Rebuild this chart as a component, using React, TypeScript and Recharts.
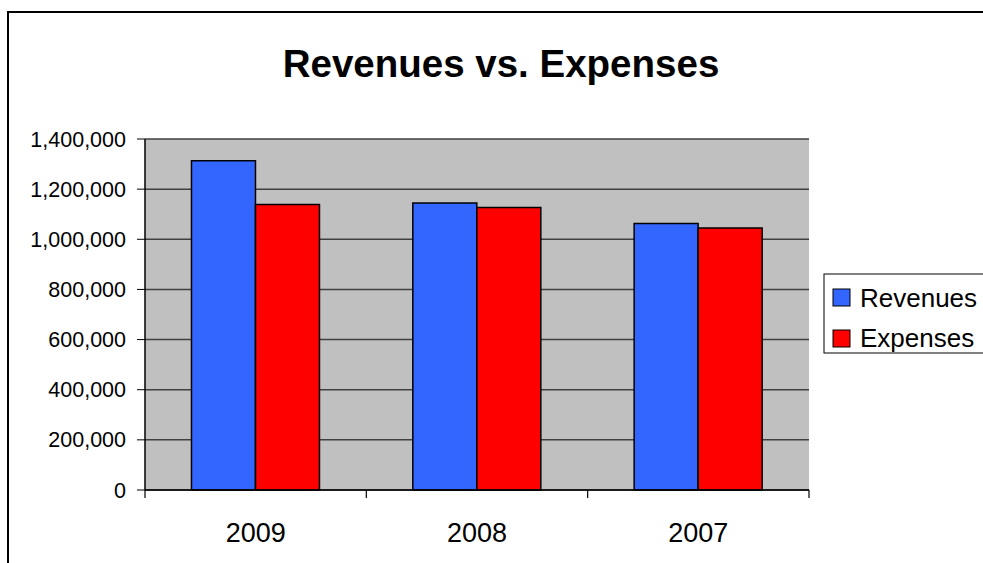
import { BarChart, Bar, XAxis, YAxis, CartesianGrid } from 'recharts'

const categories = ['2009', '2008', '2007']
const revenues = [1313000, 1145000, 1063000]
const expenses = [1139000, 1127000, 1045000]
const yTicks = [0, 200000, 400000, 600000, 800000, 1000000, 1200000, 1400000]

const series = [
  { key: 'revenues', name: 'Revenues', color: '#3366FF' },
  { key: 'expenses', name: 'Expenses', color: '#FF0000' },
]

const data = categories.map((year, i) => ({
  year,
  revenues: revenues[i],
  expenses: expenses[i],
}))

const font = '"Liberation Sans", Arial, sans-serif'
const TICK_SIZE = 8
const TICK_MARGIN = 25

// category label plus tick marks on the category boundaries
function YearTick(props: any) {
  const { x, y, payload, index } = props
  const half = payload.offset || 0
  const axisY = y - TICK_SIZE - TICK_MARGIN
  const last = index === categories.length - 1
  return (
    <g>
      <line x1={x - half} x2={x - half} y1={axisY} y2={axisY + TICK_SIZE} stroke="#000" strokeWidth={1.2} />
      {last && <line x1={x + half} x2={x + half} y1={axisY} y2={axisY + TICK_SIZE} stroke="#000" strokeWidth={1.2} />}
      <text x={x} y={y} dy="0.71em" textAnchor="middle" fontSize={27} fontFamily={font} fill="#000">
        {payload.value}
      </text>
    </g>
  )
}

export default function App() {
  return (
    <div style={{ position: 'fixed', left: 0, top: 0, width: 983, height: 563, overflow: 'hidden', background: '#fff', fontFamily: font }}>
      <BarChart
        width={983}
        height={563}
        data={data}
        margin={{ top: 139, right: 174, left: 8, bottom: 0 }}
        barGap={0}
        barCategoryGap="21%"
      >
        <CartesianGrid fill="#C0C0C0" stroke="#404040" strokeWidth={1.5} vertical={false} />
        <XAxis
          dataKey="year"
          tickLine={false}
          tickSize={TICK_SIZE}
          tickMargin={TICK_MARGIN}
          height={73}
          axisLine={{ stroke: '#000', strokeWidth: 1.5 }}
          tick={<YearTick />}
        />
        <YAxis
          domain={[0, 1400000]}
          ticks={yTicks}
          width={137}
          tickSize={8}
          tickMargin={11}
          axisLine={{ stroke: '#000', strokeWidth: 1.5 }}
          tickLine={{ stroke: '#000' }}
          tick={{ fill: '#000', fontSize: 21.5, fontFamily: font }}
          tickFormatter={(v: number) => v.toLocaleString('en-US')}
        />
        <YAxis
          yAxisId="r"
          orientation="right"
          width={0}
          tick={false}
          tickLine={false}
          axisLine={{ stroke: '#808080' }}
        />
        {series.map((s) => (
          <Bar
            key={s.key}
            dataKey={s.key}
            name={s.name}
            fill={s.color}
            stroke="#000"
            strokeWidth={1.5}
            isAnimationActive={false}
          />
        ))}
      </BarChart>

      <svg width={983} height={563} style={{ position: 'absolute', left: 0, top: 0, pointerEvents: 'none' }}>
        <rect x={8} y={12} width={1200} height={800} fill="none" stroke="#000" strokeWidth={2} />
        <text x={501} y={77} textAnchor="middle" fontSize={38.5} fontWeight="bold" fontFamily={font} fill="#000">
          Revenues vs. Expenses
        </text>
        <rect x={824} y={274} width={200} height={79} fill="#fff" stroke="#000" strokeWidth={1} />
        {series.map((s, i) => (
          <g key={s.key}>
            <rect x={833} y={289 + i * 41} width={17} height={17} fill={s.color} stroke="#000" strokeWidth={1} />
            <text x={860} y={307 + i * 40} fontSize={26} fontFamily={font} fill="#000">
              {s.name}
            </text>
          </g>
        ))}
      </svg>
    </div>
  )
}
